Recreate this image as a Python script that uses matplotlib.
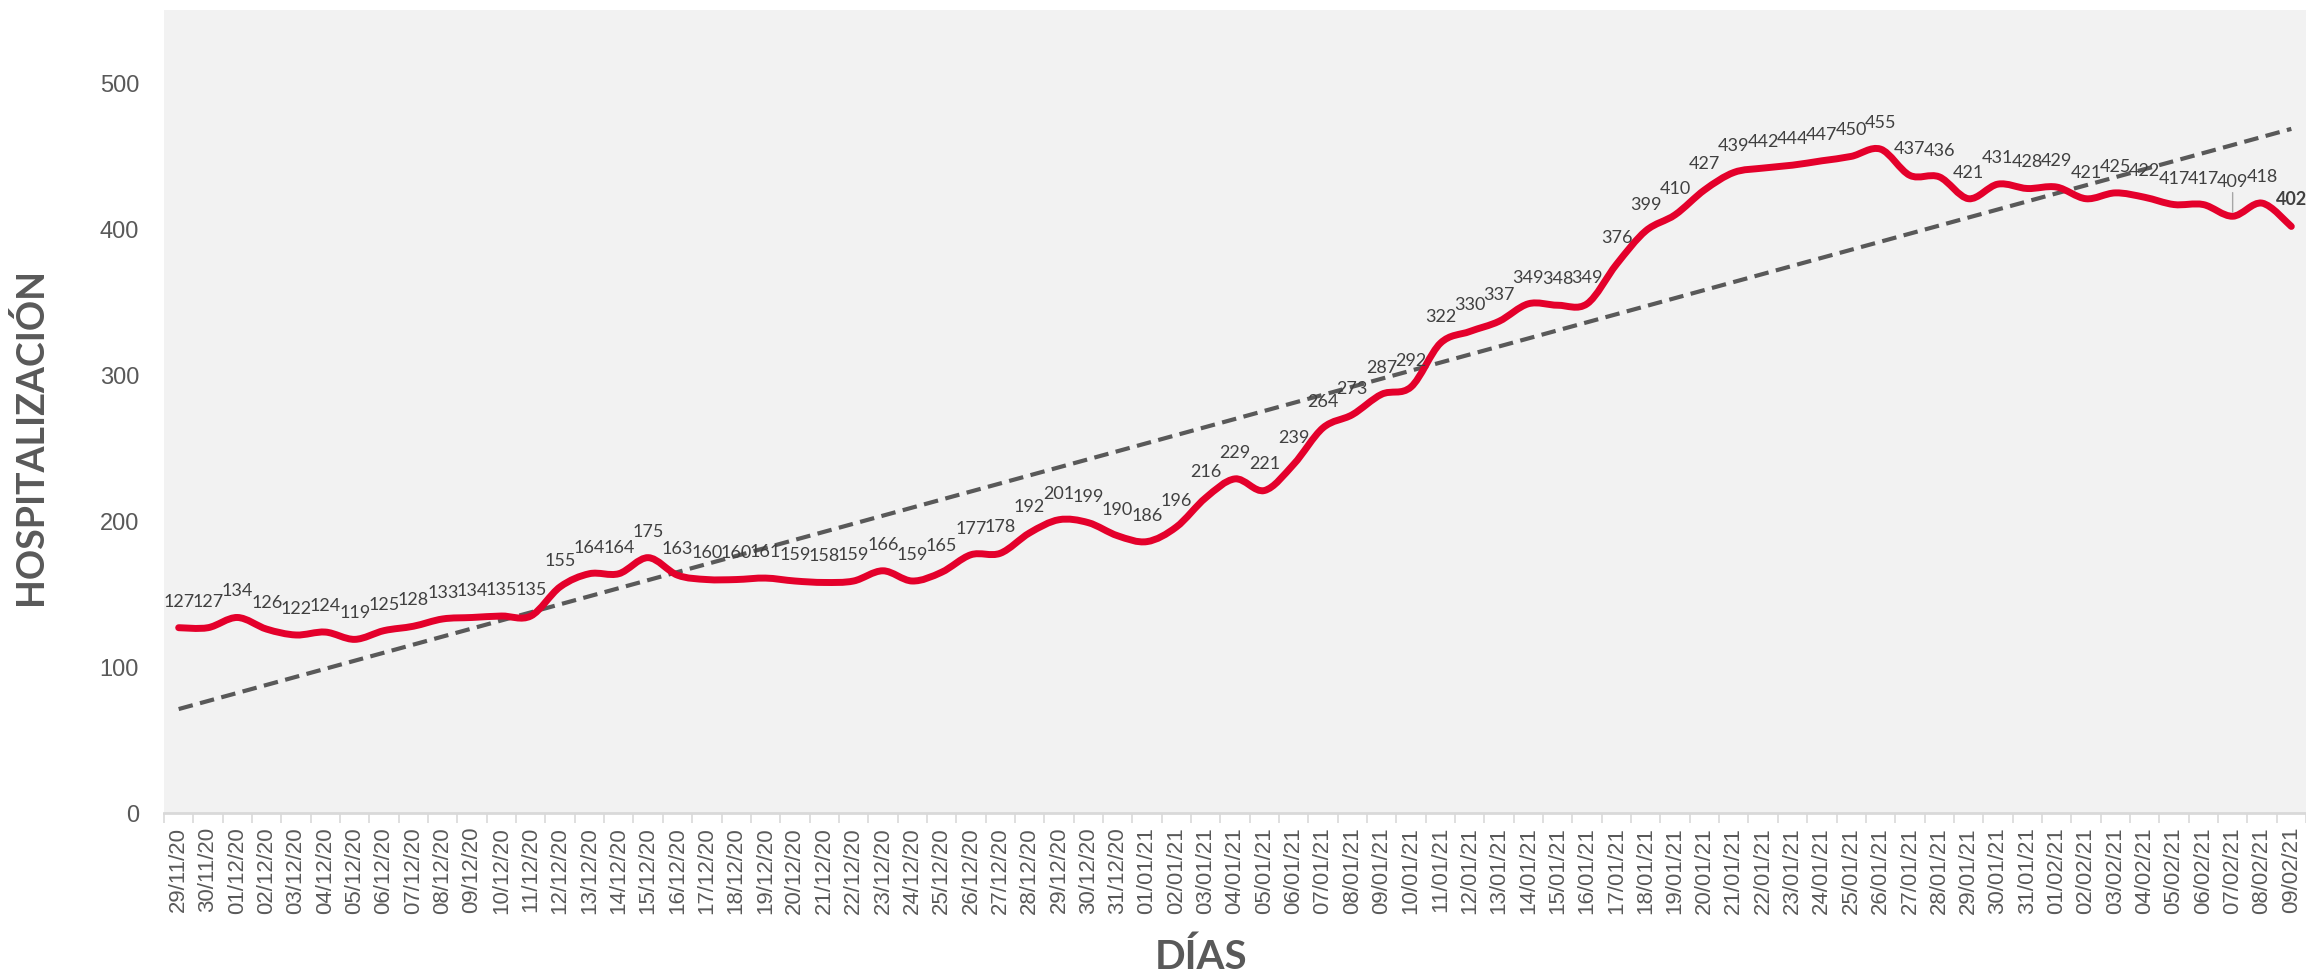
import numpy as np
import matplotlib.pyplot as plt
from matplotlib.path import Path
from matplotlib.patches import PathPatch

# daily hospitalisations, 29/11/20 - 09/02/21
dates = ['29/11/20', '30/11/20'] + \
        ['%02d/12/20' % d for d in range(1, 32)] + \
        ['%02d/01/21' % d for d in range(1, 32)] + \
        ['%02d/02/21' % d for d in range(1, 10)]

values = [127, 127, 134, 126, 122, 124, 119, 125, 128, 133, 134, 135, 135,
          155, 164, 164, 175, 163, 160, 160, 161, 159, 158, 159, 166, 159,
          165, 177, 178, 192, 201, 199, 190, 186, 196, 216, 229, 221, 239,
          264, 273, 287, 292, 322, 330, 337, 349, 348, 349, 376, 399, 410,
          427, 439, 442, 444, 447, 450, 455, 437, 436, 421, 431, 428, 429,
          421, 425, 422, 417, 417, 409, 418, 402]

yticks = [0, 100, 200, 300, 400, 500]

RED = '#E4002B'
GREY = '#595959'

x = np.arange(len(values))
y = np.array(values, dtype=float)

fig = plt.figure(figsize=(23.06, 9.73), dpi=100)
ax = fig.add_axes([164 / 2306, 160 / 973, 1 - 164 / 2306, 802.5 / 973])
ax.set_facecolor('#F2F2F2')

# smoothed line (Catmull-Rom as cubic bezier, like Excel's smooth line)
pts = np.column_stack([x, y])
verts = [pts[0]]
codes = [Path.MOVETO]
n = len(pts)
for i in range(n - 1):
    p0 = pts[max(i - 1, 0)]
    p1 = pts[i]
    p2 = pts[i + 1]
    p3 = pts[min(i + 2, n - 1)]
    c1 = p1 + (p2 - p0) / 6
    c2 = p2 - (p3 - p1) / 6
    verts += [c1, c2, p2]
    codes += [Path.CURVE4] * 3
patch = PathPatch(Path(verts, codes), facecolor='none', edgecolor=RED,
                  lw=5, capstyle='round', joinstyle='round', zorder=3)
ax.add_patch(patch)

# linear trend line
k, b = np.polyfit(x, y, 1)
trend, = ax.plot(x, k * x + b, color=GREY, lw=3, zorder=2)
trend.set_dashes([3.5, 1.8])

# data labels
for i, v in enumerate(values):
    bold = i == len(values) - 1
    if dates[i] == '07/02/21':
        ax.annotate(str(v), (i, v), xytext=(0, 19), textcoords='offset points',
                    ha='center', va='bottom', fontsize=13, family='Lato',
                    color='#404040', zorder=4,
                    arrowprops=dict(arrowstyle='-', color='#A6A6A6', lw=1,
                                    shrinkA=0, shrinkB=3))
        continue
    ax.annotate(str(v), (i, v), xytext=(0, 13), textcoords='offset points',
                ha='center', va='bottom', fontsize=13, family='Lato',
                color='#404040', fontweight='bold' if bold else 'normal',
                zorder=4, annotation_clip=False)

ax.set_xlim(-0.5, len(values) - 0.5)
ax.set_ylim(0, 550)

ax.set_yticks(yticks)
ax.set_yticklabels([str(t) for t in yticks], family='Liberation Sans',
                   fontsize=17, color=GREY)
ax.tick_params(axis='y', length=0, pad=18)

ax.set_xticks(x)
ax.set_xticklabels(dates, rotation=90, family='Liberation Sans',
                   fontsize=16, color=GREY)
ax.set_xticks(np.arange(len(values) + 1) - 0.5, minor=True)
ax.tick_params(axis='x', which='major', length=0, pad=10)
ax.tick_params(axis='x', which='minor', length=7, width=1.2, color='#D9D9D9')

for s in ['top', 'right', 'left']:
    ax.spines[s].set_visible(False)
ax.spines['bottom'].set_color('#D9D9D9')
ax.spines['bottom'].set_linewidth(2)

fig.text(0.013, 0.551, 'HOSPITALIZACIÓN', rotation=90, ha='center',
         va='center', fontsize=27, family='Lato', fontweight='bold',
         color=GREY)
fig.text(0.521, 0.016, 'DÍAS', ha='center', va='center', fontsize=29,
         family='Lato', fontweight='bold', color=GREY)

fig.savefig('out.png', dpi=100, facecolor='white')
